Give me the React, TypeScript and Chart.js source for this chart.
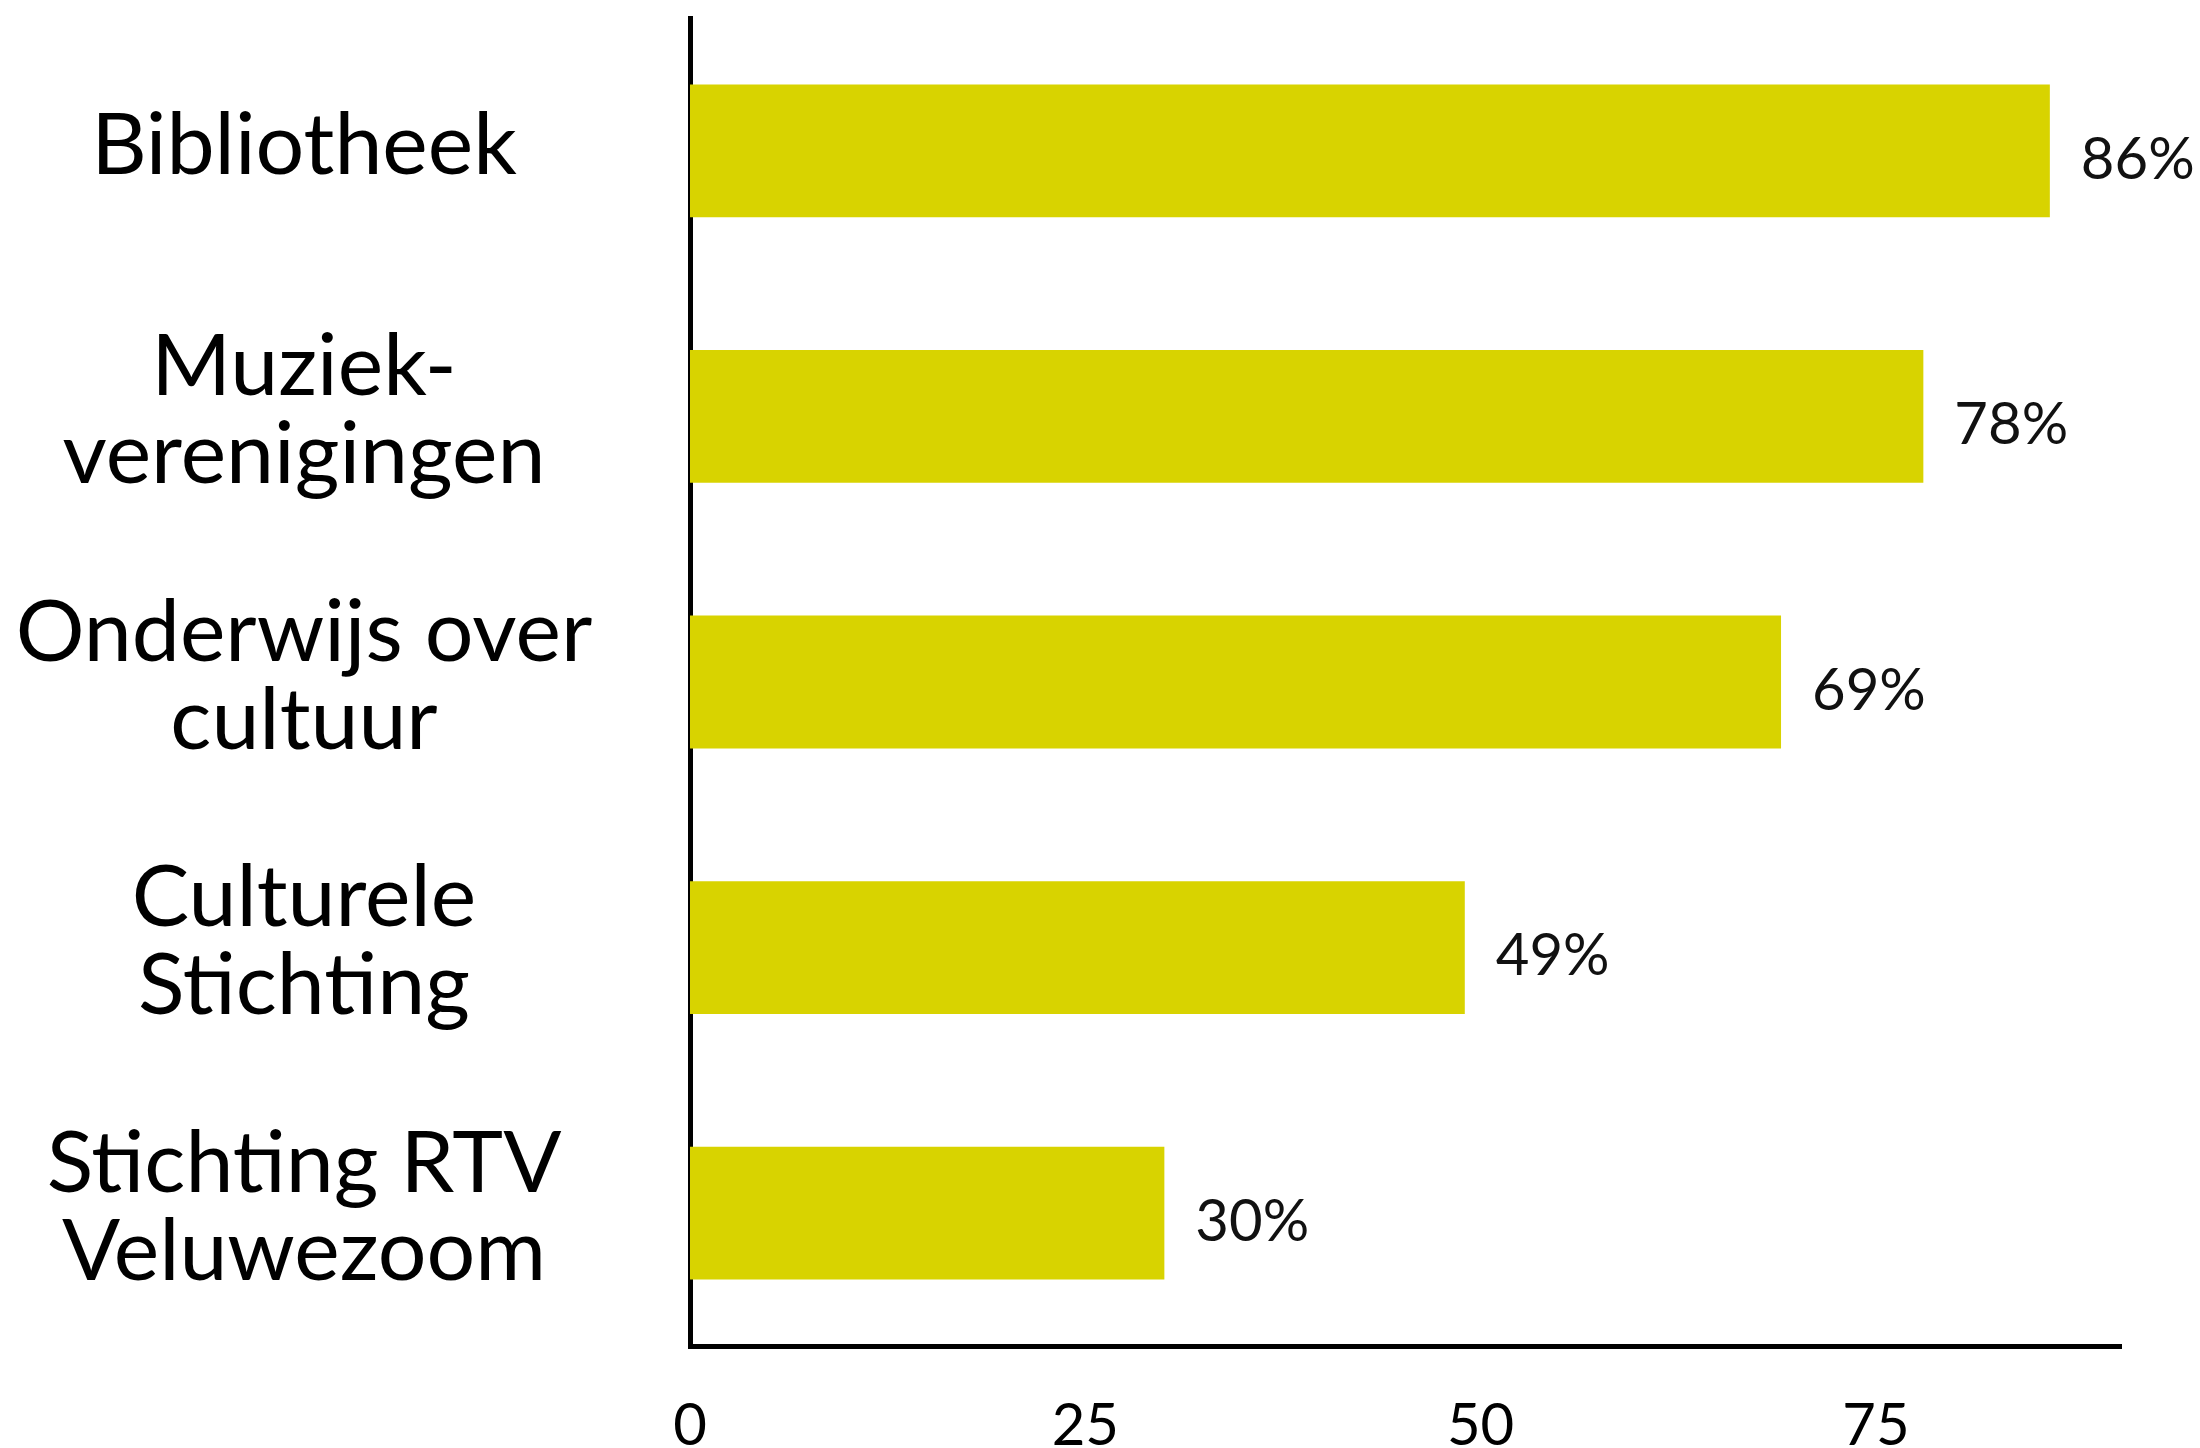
import React, { useEffect, useRef } from "react";
import { Chart, registerables } from "chart.js";

Chart.register(...registerables);

const categories: string[][] = [
  ["Bibliotheek"],
  ["Muziek-", "verenigingen"],
  ["Onderwijs over", "cultuur"],
  ["Culturele", "Stichting"],
  ["Stichting RTV", "Veluwezoom"],
];
const values: number[] = [86, 78, 69, 49, 30];
const xTickValues: number[] = [0, 25, 50, 75];
const valueSuffix = "%";

const BAR_COLOR = "#D8D300";
const CAT_FONT_SIZE = 86;
const CAT_FONT = "Lato";
const AXIS_RIGHT = 690;
const LABEL_CENTER = 304;

const valueLabelPlugin = {
  id: "valueLabels",
  afterDatasetsDraw(chart: any) {
    const ctx = chart.ctx;
    const meta = chart.getDatasetMeta(0);
    ctx.save();
    ctx.font = "58px Lato";
    ctx.fillStyle = "#111111";
    ctx.textAlign = "left";
    ctx.textBaseline = "middle";
    meta.data.forEach((bar: any, i: number) => {
      ctx.fillText(values[i] + valueSuffix, bar.x + 31, bar.y + 9);
    });
    ctx.restore();
  },
};

export default function App() {
  const ref = useRef<HTMLCanvasElement | null>(null);

  useEffect(() => {
    if (!ref.current) return;
    const m = document.createElement("canvas").getContext("2d")!;
    m.font = `${CAT_FONT_SIZE}px ${CAT_FONT}`;
    let widest = 0;
    categories.forEach((lines) =>
      lines.forEach((l) => {
        widest = Math.max(widest, m.measureText(l).width);
      })
    );
    const yPad = AXIS_RIGHT - LABEL_CENTER - widest / 2;

    const chart = new Chart(ref.current, {
      type: "bar",
      data: {
        labels: categories,
        datasets: [
          {
            data: values,
            backgroundColor: BAR_COLOR,
            borderWidth: 0,
            barPercentage: 0.5,
            categoryPercentage: 1,
          },
        ],
      },
      options: {
        indexAxis: "y",
        animation: false,
        responsive: false,
        maintainAspectRatio: false,
        layout: { padding: { top: 18, right: 79, bottom: 0, left: 0 } },
        plugins: {
          legend: { display: false },
          tooltip: { enabled: false },
        },
        scales: {
          x: {
            min: 0,
            max: 90.5,
            grid: { display: false, drawTicks: false },
            border: { display: true, color: "#000000", width: 5 },
            afterBuildTicks: (scale: any) => {
              scale.ticks = xTickValues.map((v) => ({ value: v }));
            },
            afterFit: (scale: any) => {
              scale.height = 1490 - 1346;
              scale.paddingLeft = 0;
              scale.paddingRight = 0;
            },
            ticks: {
              color: "#000000",
              font: { family: "Lato", size: 58 },
              padding: 45,
              maxRotation: 0,
              autoSkip: false,
            },
          },
          y: {
            grid: { display: false, drawTicks: false },
            border: { display: true, color: "#000000", width: 5 },
            afterFit: (scale: any) => {
              scale.width = AXIS_RIGHT;
              scale.paddingTop = 0;
              scale.paddingBottom = 0;
            },
            ticks: {
              color: "#000000",
              crossAlign: "center",
              padding: yPad,
              labelOffset: -5,
              autoSkip: false,
              font: { family: CAT_FONT, size: CAT_FONT_SIZE, lineHeight: 1.02 },
            },
          },
        },
      },
      plugins: [valueLabelPlugin],
    });
    return () => chart.destroy();
  }, []);

  return (
    <div style={{ position: "fixed", left: 0, top: 0, width: 2200, height: 1490, background: "#ffffff" }}>
      <canvas ref={ref} width={2200} height={1490} style={{ width: 2200, height: 1490 }} />
    </div>
  );
}
